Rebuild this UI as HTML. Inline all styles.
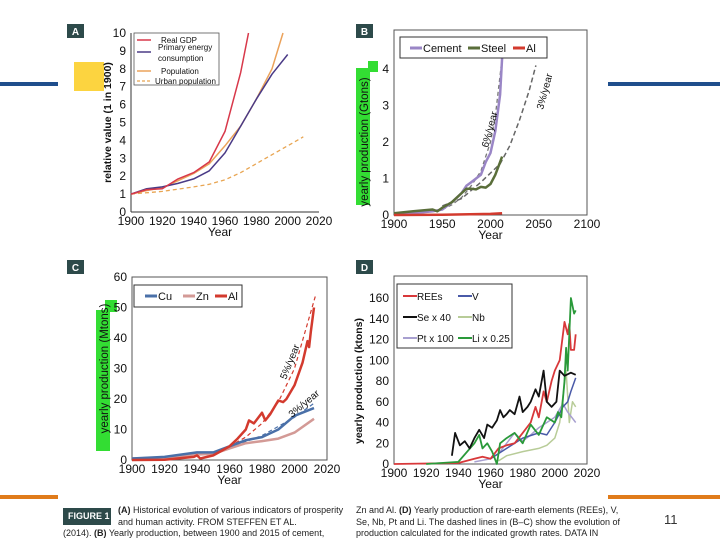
<!DOCTYPE html>
<html><head><meta charset="utf-8"><style>
body{margin:0;width:720px;height:540px;background:#fff;overflow:hidden;font-family:"Liberation Sans",sans-serif}
svg{position:absolute;left:0;top:0}
.cap{position:absolute;font-size:9px;line-height:11.5px;color:#222;font-family:"Liberation Sans",sans-serif}
</style></head><body>
<svg id="s" width="720" height="540">
<rect x="0" y="82" width="58" height="4" fill="#1f4e8c"/>
<rect x="608" y="82" width="112" height="4" fill="#1f4e8c"/>
<rect x="0" y="495" width="58" height="4" fill="#e07b1a"/>
<rect x="608" y="495" width="112" height="4" fill="#e07b1a"/>
<rect x="74" y="62" width="30" height="29" fill="#fcd440"/>
<rect x="356" y="68" width="14" height="137" fill="#33dd33"/>
<rect x="368" y="61" width="10" height="11" fill="#33dd33"/>
<rect x="96" y="310" width="14" height="141" fill="#33dd33"/>
<rect x="105" y="300" width="12" height="12" fill="#33dd33"/>
</svg>
<div class="cap" style="left:63px;top:508px;width:48px;height:17px;background:#2d4a4a;"></div>
<div class="cap" style="left:68px;top:511px;color:#fff;font-weight:bold;font-size:9px">FIGURE 1</div>
<div class="cap" style="left:118px;top:505px;width:235px"><b>(A)</b> Historical evolution of various indicators of prosperity and human activity. FROM STEFFEN ET AL.</div>
<div class="cap" style="left:63px;top:528px;width:295px;white-space:nowrap">(2014). <b>(B)</b> Yearly production, between 1900 and 2015 of cement,</div>
<div class="cap" style="left:356px;top:505px;width:272px;height:35px;overflow:hidden">Zn and Al. <b>(D)</b> Yearly production of rare-earth elements (REEs), V, Se, Nb, Pt and Li. The dashed lines in (B–C) show the evolution of production calculated for the indicated growth rates. DATA IN PARTS</div>
<div class="cap" style="left:664px;top:514px;font-size:13px;color:#333">11</div>
<script>
// Panel A
const aYears=[1900,1910,1920,1930,1940,1950,1960,1970,1975];
const aGdp=[1,1.25,1.3,1.85,2.2,2.8,4.5,7.8,10];
const aEnergyYears=[1900,1910,1920,1930,1940,1950,1960,1970,1980,1990,2000];
const aEnergy=[1,1.3,1.4,1.6,1.85,2.3,3.3,4.8,6.3,7.7,8.8];
const aPopYears=[1900,1910,1920,1930,1940,1950,1960,1970,1980,1990,1997];
const aPop=[1,1.2,1.35,1.75,2.15,2.7,3.7,4.8,6.3,8.0,10];
const aUrbYears=[1900,1920,1940,1950,1960,1970,1980,1990,2000,2010];
const aUrb=[1,1.15,1.4,1.55,1.8,2.2,2.7,3.2,3.7,4.2];
// Panel B
const bCemYears=[1900,1920,1940,1950,1960,1970,1975,1980,1990,1995,2000,2005,2010,2012];
const bCement=[0.02,0.05,0.1,0.15,0.35,0.6,0.8,0.9,1.1,1.45,1.7,2.3,3.3,4.3];
const bSteelYears=[1900,1920,1940,1945,1950,1960,1970,1975,1980,1985,1990,1995,2000,2005,2010,2012];
const bSteel=[0.05,0.1,0.15,0.1,0.2,0.35,0.6,0.72,0.72,0.7,0.77,0.75,0.85,1.1,1.45,1.6];
const bAlYears=[1900,1950,2000,2012];
const bAl=[0,0.005,0.03,0.05];
const b6Years=[1950,1960,1970,1980,1990,2000,2005,2012];
const b6=[0.15,0.28,0.48,0.8,1.2,2.0,2.7,4.3];
const b3Years=[1950,1970,1990,2010,2020,2030,2040,2047];
const b3=[0.25,0.45,0.9,1.4,1.9,2.6,3.4,4.1];
// Panel C
const cAlYears=[1900,1920,1938,1940,1942,1950,1955,1960,1965,1970,1972,1975,1980,1982,1985,1990,1993,1995,2000,2005,2008,2009,2010,2012];
const cAl=[0,0.1,1,1.5,0.5,1.5,3,4.5,7,10,13,12,15.5,13,15,19.5,19,20,24.5,32,39,37,42,50];
const cCuYears=[1900,1920,1940,1950,1960,1970,1980,1990,2000,2012];
const cCu=[0.5,1,2.5,2.5,4.5,6.5,7.5,10,14.5,17];
const cZnYears=[1900,1920,1940,1950,1960,1970,1980,1990,2000,2012];
const cZn=[0.5,0.8,1.8,2,3.8,5.5,6.2,7,9,13.5];
const c5Years=[1960,1970,1980,1990,2000,2013];
const c5=[4.5,7.5,12,19,30,54];
const c3Years=[1960,1980,2000,2013];
const c3=[4,8,14,19];
// Panel D
const dReeYears=[1900,1940,1950,1955,1960,1965,1970,1975,1980,1985,1988,1990,1993,1995,1998,2000,2003,2006,2008,2009,2010,2012,2013];
const dRee=[0,1,5,7,5,15,18,20,30,40,55,45,70,60,80,90,100,137,125,135,110,110,125];
const dSeYears=[1936,1938,1941,1944,1947,1950,1953,1956,1958,1961,1964,1966,1968,1970,1972,1975,1978,1980,1983,1985,1988,1990,1993,1995,1998,2001,2003,2006,2010,2013];
const dSe=[8,30,18,22,15,25,33,25,38,35,42,52,45,48,52,48,65,50,55,60,72,65,90,60,55,60,90,85,88,86];
const dVYears=[1960,1970,1980,1990,1995,2000,2005,2008,2010,2013];
const dV=[5,15,25,30,28,40,55,60,70,83];
const dNbYears=[1965,1970,1980,1990,1995,2000,2003,2005,2007,2009,2011,2013];
const dNb=[3,8,12,15,18,25,40,65,90,40,60,55];
const dPtYears=[1950,1960,1965,1970,1975,1980,1985,1990,1995,2000,2005,2008,2013];
const dPt=[2,5,10,20,30,22,28,35,40,45,58,50,40];
const dLiYears=[1920,1940,1950,1953,1955,1958,1961,1964,1966,1970,1975,1980,1985,1990,1995,2000,2002,2004,2006,2007,2008,2010,2012,2013];
const dLi=[0,2,20,28,15,20,12,0,20,25,30,20,38,28,45,40,50,45,80,112,90,160,145,148];
const aTicksY=[0,1,2,3,4,5,6,7,8,9,10];
const aTicksX=[1900,1920,1940,1960,1980,2000,2020];
const bTicksY=[0,1,2,3,4];
const bTicksX=[1900,1950,2000,2050,2100];
const cTicksY=[0,10,20,30,40,50,60];
const dTicksY=[0,20,40,60,80,100,120,140,160];

const S=document.getElementById('s');const NS='http://www.w3.org/2000/svg';
function mk(t,a,name){const e=document.createElementNS(NS,t);for(const k in a)e.setAttribute(k,a[k]);


S.appendChild(e);return e;}
function txt(x,y,s,name,o){const e=mk('text',Object.assign({x:x,y:y,'font-size':12,'font-family':'Liberation Sans, sans-serif',fill:'#111'},o||{}),name);e.textContent=s;return e;}
function axes(P){return {x:v=>P.x0+(v-P.xmin)/(P.xmax-P.xmin)*(P.x1-P.x0),y:v=>P.y0-(v-P.ymin)/(P.ymax-P.ymin)*(P.y0-P.y1)};}
function line(ax,xs,ys,col,w,name,dash){const pts=xs.map((v,i)=>ax.x(v).toFixed(1)+','+ax.y(ys[i]).toFixed(1)).join(' ');
const o={points:pts,fill:'none',stroke:col,'stroke-width':w,'stroke-linejoin':'round'};if(dash)o['stroke-dasharray']=dash;return mk('polyline',o,name);}
function panel(P,ax,tx,ty,letter,lx,ly,frame,ylab){
 if(frame)mk('rect',{x:P.x0,y:P.y1-(P.top||0),width:P.x1-P.x0,height:P.y0-P.y1+(P.top||0),fill:'none',stroke:'#555','stroke-width':1},'plot-frame-'+letter);
 else{mk('line',{x1:P.x0,y1:P.y1,x2:P.x0,y2:P.y0,stroke:'#333'},'y-axis-'+letter);mk('line',{x1:P.x0,y1:P.y0,x2:P.x1,y2:P.y0,stroke:'#333'},'x-axis-'+letter);}
 ty.forEach(v=>txt(P.x0-5,ax.y(v)+4,String(v),'y-tick-'+letter,{'text-anchor':'end'}));
 tx.forEach(v=>txt(ax.x(v),P.y0+13,String(v),'x-tick-'+letter,{'text-anchor':'middle'}));
 txt((P.x0+P.x1)/2-(letter=='A'?5:0),P.y0+24,'Year','x-axis-title-'+letter,{'text-anchor':'middle'});
 mk('rect',{x:lx,y:ly,width:17,height:14,fill:'#2d4a4a'},'panel-badge-'+letter);
 txt(lx+8.5,ly+11,letter,'panel-letter-'+letter,{'text-anchor':'middle',fill:'#fff','font-weight':'bold','font-size':10});
 const yt=txt(0,0,ylab[0],'y-axis-title-'+letter,{'text-anchor':'middle','font-weight':ylab[2]?'bold':'normal','font-size':ylab[3]||11});
 yt.setAttribute('transform','translate('+ylab[1]+','+((P.y0+P.y1)/2)+') rotate(-90)');
}
// A
const PA={x0:131,x1:319,y0:212,y1:33,xmin:1900,xmax:2020,ymin:0,ymax:10};const A=axes(PA);
panel(PA,A,aTicksX,aTicksY,'A',67,24,false,['relative value (1 in 1900)',111,true,10.5]);
line(A,aUrbYears,aUrb,'#e8a552',1.3,'urban-population-line','4,3');
line(A,aPopYears,aPop,'#eba25a',1.5,'population-line');
line(A,aEnergyYears,aEnergy,'#4a3a86',1.5,'energy-line');
line(A,aYears,aGdp,'#d8384a',1.5,'gdp-line');
mk('rect',{x:134,y:33,width:85,height:52,fill:'#fff',stroke:'#555','stroke-width':0.8},'legend-a');
mk('line',{x1:137,x2:151,y1:40,y2:40,stroke:'#d8384a','stroke-width':1.5},'legend-swatch-gdp');
txt(161,43,'Real GDP','legend-entry-gdp',{'font-size':8});
mk('line',{x1:137,x2:151,y1:52,y2:52,stroke:'#4a3a86','stroke-width':1.5},'legend-swatch-energy');
txt(158,50,'Primary energy','legend-entry-energy',{'font-size':8});
txt(158,61,'consumption','legend-entry-energy-2',{'font-size':8});
mk('line',{x1:137,x2:151,y1:71,y2:71,stroke:'#eba25a','stroke-width':1.5},'legend-swatch-population');
txt(161,74,'Population','legend-entry-population',{'font-size':8});
mk('line',{x1:137,x2:151,y1:81,y2:81,stroke:'#e8a552','stroke-width':1.3,'stroke-dasharray':'3,2'},'legend-swatch-urban');
txt(155,84,'Urban population','legend-entry-urban',{'font-size':8});
// B
const PB={x0:394,x1:587,y0:215,y1:69,xmin:1900,xmax:2100,ymin:0,ymax:4,top:39};const B=axes(PB);
panel(PB,B,bTicksX,bTicksY,'B',356,24,true,['yearly production (Gtons)',368,false,11.5]);
line(B,b6Years,b6,'#777',1.3,'growth-6pct-line','4,3');
line(B,b3Years,b3,'#666',1.5,'growth-3pct-line','5,3');
line(B,bCemYears,bCement,'#9a86c6',2.5,'cement-line');
line(B,bSteelYears,bSteel,'#5a6e3a',2.5,'steel-line');
line(B,bAlYears,bAl,'#d33a2e',2.5,'al-line-b');
mk('rect',{x:400,y:37,width:147,height:21,fill:'#fff',stroke:'#333'},'legend-b');
[['Cement','#9a86c6',410],['Steel','#5a6e3a',468],['Al','#d33a2e',513]].forEach(r=>{mk('line',{x1:r[2],x2:r[2]+12,y1:48,y2:48,stroke:r[1],'stroke-width':3},'legend-swatch-b');txt(r[2]+13,52,r[0],'legend-entry-b',{'font-size':11});});
let t=txt(0,0,'6%/year','label-6pct',{'font-size':10});t.setAttribute('transform','translate(488,148) rotate(-75)');
t=txt(0,0,'3%/year','label-3pct',{'font-size':10});t.setAttribute('transform','translate(543,110) rotate(-75)');
// C
const PC={x0:132,x1:327,y0:460,y1:277,xmin:1900,xmax:2020,ymin:0,ymax:60};const C=axes(PC);
panel(PC,C,aTicksX,cTicksY,'C',67,260,true,['yearly production (Mtons)',108,false,11.5]);
line(C,c5Years,c5,'#d33a2e',1.2,'growth-5pct-line','4,3');
line(C,c3Years,c3,'#4a70a8',1.2,'growth-3pct-line-c','4,3');
line(C,cZnYears,cZn,'#d39a96',2.5,'zn-line');
line(C,cCuYears,cCu,'#4a70a8',2.5,'cu-line');
line(C,cAlYears,cAl,'#d33a2e',2.5,'al-line-c');
mk('rect',{x:134,y:285,width:108,height:22,fill:'#fff',stroke:'#333'},'legend-c');
[['Cu','#4a70a8',145],['Zn','#d39a96',183],['Al','#d33a2e',215]].forEach(r=>{mk('line',{x1:r[2],x2:r[2]+12,y1:296,y2:296,stroke:r[1],'stroke-width':3},'legend-swatch-c');txt(r[2]+13,300,r[0],'legend-entry-c',{'font-size':11});});
t=txt(0,0,'5%/year','label-5pct',{'font-size':10});t.setAttribute('transform','translate(286,380) rotate(-68)');
t=txt(0,0,'3%/year','label-3pct-c',{'font-size':10});t.setAttribute('transform','translate(292,418) rotate(-40)');
// D
const PD={x0:394,x1:587,y0:464,y1:298,xmin:1900,xmax:2020,ymin:0,ymax:160,top:22};const D=axes(PD);
panel(PD,D,aTicksX,dTicksY,'D',356,260,true,['yearly production (ktons)',362,true,10.5]);
line(D,dNbYears,dNb,'#b8cc98',1.5,'nb-line');
line(D,dPtYears,dPt,'#a8a0d0',1.5,'pt-line');
line(D,dVYears,dV,'#4a5aa8',1.5,'v-line');
line(D,dReeYears,dRee,'#d8383a',1.8,'ree-line');
line(D,dLiYears,dLi,'#2a9a3a',1.8,'li-line');
line(D,dSeYears,dSe,'#111',1.8,'se-line');
mk('rect',{x:397,y:284,width:115,height:64,fill:'#fff',stroke:'#333'},'legend-d');
[['REEs','#d8383a',403,300],['V','#4a5aa8',458,300],['Se x 40','#111',403,321],['Nb','#b8cc98',458,321],['Pt x 100','#a8a0d0',403,342],['Li x 0.25','#2a9a3a',458,342]].forEach(r=>{mk('line',{x1:r[2],x2:r[2]+14,y1:r[3]-4,y2:r[3]-4,stroke:r[1],'stroke-width':2},'legend-swatch-d');txt(r[2]+14,r[3],r[0],'legend-entry-d',{'font-size':10});});
</script>
</body></html>
